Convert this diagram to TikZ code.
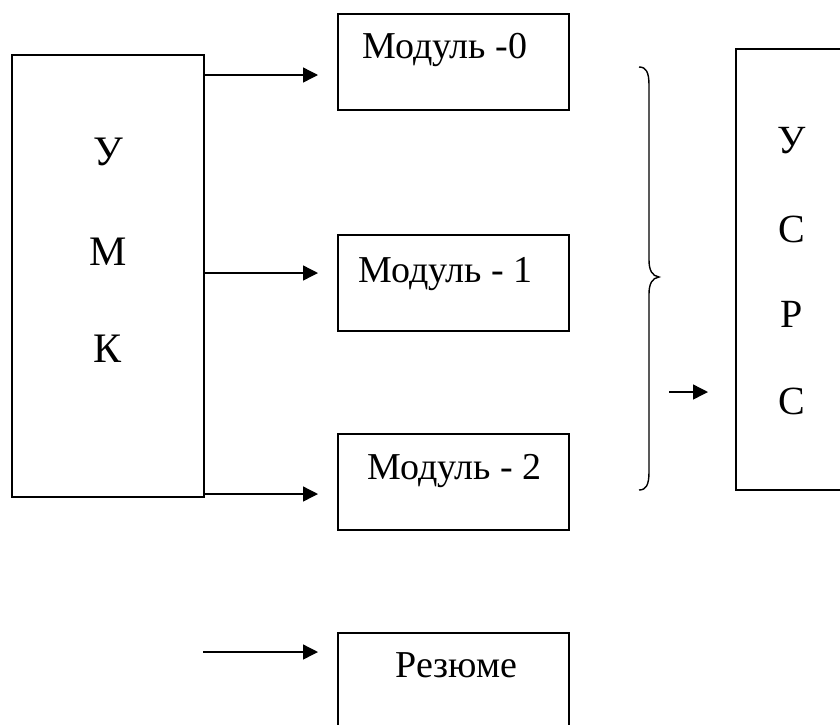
\documentclass[tikz,border=0pt]{standalone}
\usepackage{fontspec}
\setmainfont{Liberation Serif}
\usetikzlibrary{arrows.meta}
\begin{document}
\begin{tikzpicture}[x=0.5pt,y=-0.5pt,
  box/.style={draw,line width=1pt,inner sep=0pt,outer sep=0pt,rectangle},
  arr/.style={line width=0.7pt,-{Triangle[length=7.5pt,width=7.5pt]}},
  modtxt/.style={anchor=base west,inner sep=0pt,font=\fontsize{19}{22}\selectfont},
  bigletter/.style={anchor=base,inner sep=0pt,font=\fontsize{21}{24}\selectfont},
  rletter/.style={anchor=base,inner sep=0pt,font=\fontsize{20}{24}\selectfont}]
\useasboundingbox (0,0) rectangle (840,724);
\clip (0,0) rectangle (840,724);
% boxes
\node[box,minimum width=96pt,minimum height=221pt] (umk) at (108,276) {};
\node[box,minimum width=115.5pt,minimum height=48pt] (m0) at (453.5,62) {};
\node[box,minimum width=115.5pt,minimum height=48pt] (m1) at (453.5,283) {};
\node[box,minimum width=115.5pt,minimum height=48pt] (m2) at (453.5,482) {};
\node[box,minimum width=115.5pt,minimum height=63.5pt] (rez) at (453.5,696.5) {};
\node[box,minimum width=82pt,minimum height=220.5pt] (usrs) at (818,269.5) {};
% texts
\node[bigletter] (u1) at (108,165) {У};
\node[bigletter] (u2) at (108,265) {М};
\node[bigletter] (u3) at (108,362) {К};
\node[modtxt] (t0) at (362,58) {Модуль -0};
\node[modtxt] (t1) at (358,282) {Модуль - 1};
\node[modtxt] (t2) at (367,479) {Модуль - 2};
\node[modtxt] (tr) at (395,677) {Резюме};
\node[rletter] (r1) at (792,153) {У};
\node[rletter] (r2) at (792,242) {С};
\node[rletter] (r3) at (792,327) {Р};
\node[rletter] (r4) at (792,414) {С};
% arrows
\coordinate (y0) at (0,75);
\coordinate (y1) at (0,273);
\coordinate (y2) at (0,494);
\coordinate (rs) at (203,652);
\coordinate (bs) at (669,392);
\draw[arr,shorten >=10pt] (umk.east |- y0) -- (m0.west |- y0);
\draw[arr,shorten >=10pt] (umk.east |- y1) -- (m1.west |- y1);
\draw[arr,shorten >=10pt] (umk.east |- y2) -- (m2.west |- y2);
\draw[arr,shorten >=10pt] (rs) -- (rez.west |- rs);
\draw[arr,shorten >=14pt] (bs) -- (usrs.west |- bs);
% brace
\draw[line width=0.7pt] (639,67) .. controls (646,67) and (649,72) .. (649,85)
  -- (649,260) .. controls (649,270) and (652,276) .. (659,277)
  .. controls (652,278) and (649,284) .. (649,294)
  -- (649,472) .. controls (649,485) and (646,490) .. (639,490);
\end{tikzpicture}
\end{document}
